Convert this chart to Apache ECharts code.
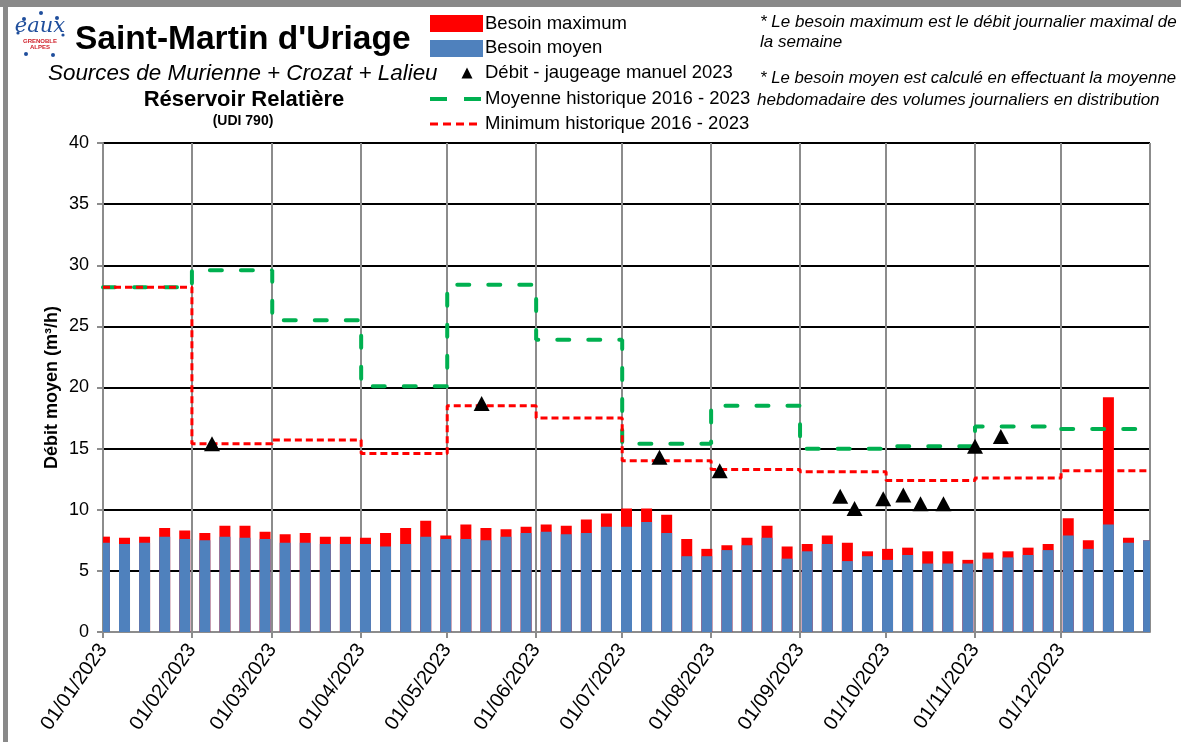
<!DOCTYPE html>
<html>
<head>
<meta charset="utf-8">
<script src="https://cdn.jsdelivr.net/npm/echarts@6/dist/echarts.min.js"></script>
<style>
  html, body { margin: 0; padding: 0; background: #fff; }
  #chart { width: 1181px; height: 742px; }
</style>
</head>
<body>
<div id="chart"></div>
<script>
// semaines (début de semaine)
const semaines = [
  '2023-01-01', '2023-01-08', '2023-01-15', '2023-01-22', '2023-01-29',
  '2023-02-05', '2023-02-12', '2023-02-19', '2023-02-26',
  '2023-03-05', '2023-03-12', '2023-03-19', '2023-03-26',
  '2023-04-02', '2023-04-09', '2023-04-16', '2023-04-23', '2023-04-30',
  '2023-05-07', '2023-05-14', '2023-05-21', '2023-05-28',
  '2023-06-04', '2023-06-11', '2023-06-18', '2023-06-25',
  '2023-07-02', '2023-07-09', '2023-07-16', '2023-07-23', '2023-07-30',
  '2023-08-06', '2023-08-13', '2023-08-20', '2023-08-27',
  '2023-09-03', '2023-09-10', '2023-09-17', '2023-09-24',
  '2023-10-01', '2023-10-08', '2023-10-15', '2023-10-22', '2023-10-29',
  '2023-11-05', '2023-11-12', '2023-11-19', '2023-11-26',
  '2023-12-03', '2023-12-10', '2023-12-17', '2023-12-24', '2023-12-31'
];

const besoinMax = [
  7.8, 7.7, 7.8, 8.5, 8.3,
  8.1, 8.7, 8.7, 8.2,
  8.0, 8.1, 7.8, 7.8,
  7.7, 8.1, 8.5, 9.1, 7.9,
  8.8, 8.5, 8.4, 8.6,
  8.8, 8.7, 9.2, 9.7,
  10.1, 10.1, 9.6, 7.6, 6.8,
  7.1, 7.7, 8.7, 7.0,
  7.2, 7.9, 7.3, 6.6,
  6.8, 6.9, 6.6, 6.6, 5.9,
  6.5, 6.6, 6.9, 7.2,
  9.3, 7.5, 19.2, 7.7, 7.5
];

const besoinMoyen = [
  7.3, 7.2, 7.3, 7.8, 7.6,
  7.5, 7.8, 7.7, 7.6,
  7.3, 7.3, 7.2, 7.2,
  7.2, 7.0, 7.2, 7.8, 7.6,
  7.6, 7.5, 7.8, 8.1,
  8.2, 8.0, 8.1, 8.6,
  8.6, 9.0, 8.1, 6.2, 6.2,
  6.7, 7.1, 7.7, 6.0,
  6.6, 7.2, 5.8, 6.2,
  5.9, 6.3, 5.6, 5.6, 5.6,
  6.0, 6.1, 6.3, 6.7,
  7.9, 6.8, 8.8, 7.3, 7.5
];

// jaugeages manuels 2023
const jaugeageDates = [
  '2023-02-08', '2023-05-13', '2023-07-14', '2023-08-04',
  '2023-09-15', '2023-09-20', '2023-09-30', '2023-10-07',
  '2023-10-13', '2023-10-21', '2023-11-01', '2023-11-10'
];
const jaugeageValeurs = [15.4, 18.7, 14.3, 13.2, 11.1, 10.1, 10.9, 11.2, 10.5, 10.5, 15.2, 16.0];

// historique mensuel 2016 - 2023
const debutMois = [
  '2023-01-01', '2023-02-01', '2023-03-01', '2023-04-01', '2023-05-01', '2023-06-01',
  '2023-07-01', '2023-08-01', '2023-09-01', '2023-10-01', '2023-11-01', '2023-12-01',
  '2024-01-01'
];
const moyenneHist = [28.2, 29.6, 25.5, 20.1, 28.4, 23.9, 15.4, 18.5, 15.0, 15.2, 16.8, 16.6];
const minimumHist = [28.2, 15.4, 15.7, 14.6, 18.5, 17.5, 14.0, 13.3, 13.1, 12.4, 12.6, 13.2];

const noms = [
  'Besoin maximum',
  'Besoin moyen',
  'Débit - jaugeage manuel 2023',
  'Moyenne historique 2016 - 2023',
  'Minimum historique 2016 - 2023'
];

const FONT = '"Liberation Sans", Arial, sans-serif';
const GRIS = '#8c8c8c';
const LARGEUR_BARRE = 11;

// date locale -> timestamp (midi pour centrer les barres sur le jour)
function ts(d, heure) {
  return new Date(d + 'T' + (heure || '00:00') + ':00').getTime();
}

function pad(n) {
  return n < 10 ? '0' + n : '' + n;
}

function escalier(valeurs) {
  // dernier mois prolongé jusqu'à la fin de l'année
  const pts = valeurs.map((v, i) => [ts(debutMois[i]), v]);
  pts.push([ts(debutMois[debutMois.length - 1]), valeurs[valeurs.length - 1]]);
  return pts;
}

// barres coupées au bord du graphique, comme dans Excel
function barre(couleur) {
  return function (params, api) {
    const haut = api.coord([api.value(0), api.value(1)]);
    const bas = api.coord([api.value(0), 0]);
    const cs = params.coordSys;
    const shape = echarts.graphic.clipRectByRect(
      { x: haut[0] - LARGEUR_BARRE / 2, y: haut[1], width: LARGEUR_BARRE, height: bas[1] - haut[1] },
      { x: cs.x, y: cs.y, width: cs.width, height: cs.height }
    );
    return shape && { type: 'rect', shape: shape, style: { fill: couleur } };
  };
}

function txt(x, y, text, font, extra) {
  return {
    type: 'text', x, y, silent: true,
    style: Object.assign({ text, font, fill: '#000', align: 'left', verticalAlign: 'middle' }, extra || {})
  };
}

const chart = echarts.init(document.getElementById('chart'));

const graphic = [
  // cadre
  { type: 'rect', shape: { x: 0, y: 0, width: 1181, height: 7 }, style: { fill: '#898989' }, silent: true },
  { type: 'rect', shape: { x: 3, y: 0, width: 5, height: 742 }, style: { fill: '#898989' }, silent: true },

  // logo
  txt(40, 27, 'eaux', 'italic 21px "DejaVu Serif", serif', { fill: '#1f4e9c', align: 'center' }),
  txt(40, 41, 'GRENOBLE', 'bold 6px ' + FONT, { fill: '#d0202a', align: 'center' }),
  txt(40, 47, 'ALPES', 'bold 6px ' + FONT, { fill: '#d0202a', align: 'center' }),
  { type: 'circle', shape: { cx: 24, cy: 19, r: 2 }, style: { fill: '#1f4e9c' }, silent: true },
  { type: 'circle', shape: { cx: 41, cy: 13, r: 2 }, style: { fill: '#1f4e9c' }, silent: true },
  { type: 'circle', shape: { cx: 57, cy: 18, r: 2 }, style: { fill: '#1f4e9c' }, silent: true },
  { type: 'circle', shape: { cx: 18, cy: 33, r: 1.6 }, style: { fill: '#1f4e9c' }, silent: true },
  { type: 'circle', shape: { cx: 63, cy: 35, r: 1.6 }, style: { fill: '#1f4e9c' }, silent: true },
  { type: 'circle', shape: { cx: 26, cy: 54, r: 2 }, style: { fill: '#1f4e9c' }, silent: true },
  { type: 'circle', shape: { cx: 53, cy: 55, r: 2 }, style: { fill: '#1f4e9c' }, silent: true },

  // titres
  txt(75, 40, "Saint-Martin d'Uriage", 'bold 33.5px ' + FONT),
  txt(48, 74, 'Sources de Murienne + Crozat + Lalieu', 'italic 22.4px ' + FONT),
  txt(244, 100, 'Réservoir Relatière', 'bold 22px ' + FONT, { align: 'center' }),
  txt(243, 121, '(UDI 790)', 'bold 14px ' + FONT, { align: 'center' }),

  // légende
  { type: 'rect', shape: { x: 430, y: 15, width: 53, height: 17 }, style: { fill: '#ff0000' }, silent: true },
  { type: 'rect', shape: { x: 430, y: 40, width: 53, height: 17 }, style: { fill: '#4f81bd' }, silent: true },
  { type: 'polygon', shape: { points: [[461.5, 78.5], [467, 67.5], [472.5, 78.5]] }, style: { fill: '#000' }, silent: true },
  { type: 'line', shape: { x1: 430, y1: 99, x2: 482, y2: 99 }, style: { stroke: '#00b050', lineWidth: 4, lineDash: [17, 17] }, silent: true },
  { type: 'line', shape: { x1: 430, y1: 124, x2: 482, y2: 124 }, style: { stroke: '#ff0000', lineWidth: 3, lineDash: [8, 5] }, silent: true },
  txt(485, 24, noms[0], '18.5px ' + FONT),
  txt(485, 48, noms[1], '18.5px ' + FONT),
  txt(485, 73, noms[2], '18.5px ' + FONT),
  txt(485, 99, noms[3], '18.5px ' + FONT),
  txt(485, 124, noms[4], '18.5px ' + FONT),

  // notes
  txt(760, 22, '* Le besoin maximum est le débit journalier maximal de', 'italic 17px ' + FONT),
  txt(760, 42, 'la semaine', 'italic 17px ' + FONT),
  txt(760, 78, '* Le besoin moyen est calculé en effectuant la moyenne', 'italic 16.8px ' + FONT),
  txt(757, 100, 'hebdomadaire des volumes journaliers en distribution', 'italic 17px ' + FONT)
];

chart.setOption({
  animation: false,
  textStyle: { fontFamily: FONT },
  graphic: graphic,
  grid: { left: 103, right: 31, top: 143, bottom: 110 },
  xAxis: {
    type: 'time',
    min: ts(debutMois[0]),
    max: ts(debutMois[debutMois.length - 1]),
    splitNumber: 12,
    axisLine: { lineStyle: { color: GRIS, width: 2 } },
    axisTick: { show: true, length: 6, lineStyle: { color: GRIS, width: 2 } },
    splitLine: { show: true, lineStyle: { color: GRIS, width: 2 } },
    axisLabel: {
      rotate: 55, fontSize: 20, color: '#000', margin: 14, hideOverlap: false,
      formatter: function (val) {
        const d = new Date(val);
        if (d.getFullYear() > 2023) return '';
        return pad(d.getDate()) + '/' + pad(d.getMonth() + 1) + '/' + d.getFullYear();
      }
    }
  },
  yAxis: {
    type: 'value',
    min: 0, max: 40, interval: 5,
    name: 'Débit moyen (m³/h)',
    nameLocation: 'middle',
    nameGap: 42,
    nameMoveOverlap: false,
    nameTextStyle: { fontSize: 18, fontWeight: 'bold', color: '#000' },
    axisLine: { show: true, lineStyle: { color: GRIS, width: 2 } },
    axisTick: { show: true, length: 6, lineStyle: { color: GRIS, width: 2 } },
    axisLabel: { fontSize: 18, color: '#000', margin: 14 },
    splitLine: { lineStyle: { color: '#000', width: 2 } }
  },
  series: [
    {
      name: noms[0], type: 'custom', z: 2,
      renderItem: barre('#ff0000'),
      encode: { x: 0, y: 1 },
      data: semaines.map((d, i) => [ts(d, '12:00'), besoinMax[i]])
    },
    {
      name: noms[1], type: 'custom', z: 2,
      renderItem: barre('#4f81bd'),
      encode: { x: 0, y: 1 },
      data: semaines.map((d, i) => [ts(d, '12:00'), besoinMoyen[i]])
    },
    {
      name: noms[3], type: 'line', z: 3, step: 'end', symbol: 'none',
      data: escalier(moyenneHist),
      lineStyle: { color: '#00b050', width: 4, type: [12, 19], cap: 'round' }
    },
    {
      name: noms[4], type: 'line', z: 3, step: 'end', symbol: 'none',
      data: escalier(minimumHist),
      lineStyle: { color: '#ff0000', width: 3, type: [7, 4] }
    },
    {
      name: noms[2], type: 'scatter', z: 4,
      symbol: 'triangle', symbolSize: [16, 15],
      data: jaugeageDates.map((d, i) => [ts(d), jaugeageValeurs[i]]),
      itemStyle: { color: '#000', opacity: 1 }
    }
  ]
});
</script>
</body>
</html>
